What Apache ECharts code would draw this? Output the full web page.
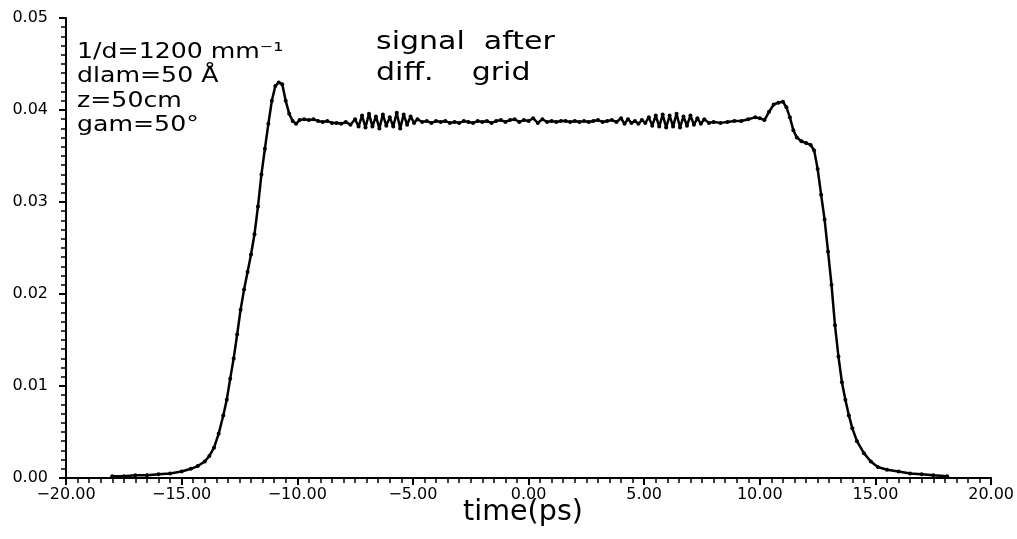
<!DOCTYPE html>
<html>
<head>
<meta charset="utf-8">
<script src="https://cdn.jsdelivr.net/npm/echarts@6/dist/echarts.min.js"></script>
<style>
html,body{margin:0;padding:0;background:#fff;}
#chart{width:1017px;height:539px;}
</style>
</head>
<body>
<div id="chart"></div>
<script>
// time (ps)
const times = [
-18.0,-17.5,-17.0,-16.5,-16.0,-15.5,-15.0,-14.6,-14.3,-14.0,-13.8,-13.6,-13.4,-13.2,-13.05,-12.9,-12.75,-12.6,-12.45,-12.3,-12.15,-12.0,-11.85,-11.7,-11.55,-11.4,-11.25,-11.1,-10.95,-10.8,-10.65,-10.5,-10.35,-10.2,-10.05,
-9.9,-9.7,-9.5,-9.3,-9.1,-8.9,-8.7,-8.5,-8.3,-8.1,-7.9,-7.7,-7.5,-7.35,-7.2,-7.05,-6.9,-6.75,-6.6,-6.45,-6.3,-6.15,-6.0,-5.85,-5.7,-5.55,-5.4,-5.25,-5.1,-4.95,-4.8,-4.6,-4.4,-4.2,-4.0,-3.8,-3.6,-3.4,-3.2,-3.0,-2.8,-2.6,-2.4,-2.2,-2.0,-1.8,-1.6,-1.4,-1.2,-1.0,-0.8,-0.6,-0.4,-0.2,
0.0,0.2,0.4,0.6,0.8,1.0,1.2,1.4,1.6,1.8,2.0,2.2,2.4,2.6,2.8,3.0,3.2,3.4,3.6,3.8,4.0,4.15,4.3,4.45,4.6,4.75,4.9,5.05,5.2,5.35,5.5,5.65,5.8,5.95,6.1,6.25,6.4,6.55,6.7,6.85,7.0,7.15,7.3,7.45,7.6,7.8,8.0,8.3,8.6,8.9,9.2,9.5,9.8,10.0,10.2,10.4,10.6,10.8,11.0,11.15,11.3,11.45,11.6,11.8,12.0,12.2,12.35,12.5,12.65,12.8,12.95,13.1,13.25,13.4,13.55,13.7,13.85,14.0,14.2,14.5,14.8,15.1,15.5,16.0,16.5,17.0,17.5,18.1
];
// signal after diff. grid
const signal = [
0.0002,0.0002,0.0003,0.0003,0.0004,0.0005,0.0007,0.0010,0.0013,0.0018,0.0024,0.0033,0.0048,0.0068,0.0085,0.0108,0.0130,0.0156,0.0183,0.0205,0.0224,0.0243,0.0265,0.0295,0.0330,0.0358,0.0385,0.0410,0.0426,0.0430,0.0428,0.0410,0.0396,0.0388,0.0385,
0.0389,0.0390,0.0389,0.0390,0.0388,0.0387,0.0388,0.0386,0.0386,0.0385,0.0387,0.0384,0.0390,0.0382,0.0394,0.0381,0.0396,0.0382,0.0393,0.0380,0.0395,0.0383,0.0392,0.0382,0.0397,0.0380,0.0395,0.0384,0.0393,0.0386,0.0390,0.0387,0.0388,0.0386,0.0388,0.0387,0.0388,0.0386,0.0387,0.0386,0.0388,0.0387,0.0386,0.0388,0.0387,0.0388,0.0386,0.0388,0.0389,0.0387,0.0389,0.0390,0.0387,0.0389,
0.0388,0.0391,0.0386,0.0390,0.0387,0.0388,0.0387,0.0388,0.0388,0.0387,0.0388,0.0387,0.0388,0.0387,0.0388,0.0389,0.0387,0.0388,0.0389,0.0387,0.0391,0.0385,0.0390,0.0386,0.0388,0.0385,0.0389,0.0386,0.0392,0.0383,0.0394,0.0382,0.0395,0.0381,0.0394,0.0382,0.0396,0.0381,0.0393,0.0383,0.0394,0.0384,0.0391,0.0385,0.0390,0.0386,0.0387,0.0386,0.0387,0.0388,0.0388,0.0390,0.0392,0.0391,0.0389,0.0398,0.0406,0.0408,0.0409,0.0403,0.0392,0.0378,0.0370,0.0366,0.0364,0.0362,0.0356,0.0336,0.0308,0.0281,0.0246,0.0210,0.0166,0.0132,0.0104,0.0085,0.0068,0.0054,0.0040,0.0027,0.0018,0.0012,0.0009,0.0007,0.0005,0.0004,0.0003,0.0002
];
const xTicks = [-20, -15, -10, -5, 0, 5, 10, 15, 20];
const yTicks = [0.00, 0.01, 0.02, 0.03, 0.04, 0.05];
const annotations = ['1/d=1200 mm\u207B\u00B9', 'dlam=50 \u00C5', 'z=50cm', 'gam=50\u00B0'];
const titleLines = ['signal  after', 'diff.    grid'];
const xTitle = 'time(ps)';

const FONT = 'DejaVu Sans';
const chart = echarts.init(document.getElementById('chart'), null, {renderer: 'canvas'});
const data = times.map((t, i) => [t, signal[i]]);

chart.setOption({
  animation: false,
  backgroundColor: '#fff',
  grid: {left: 66, right: 24, top: 18, bottom: 61, containLabel: false},
  xAxis: {
    type: 'value',
    min: xTicks[0], max: xTicks[xTicks.length - 1], interval: 5,
    axisLine: {show: true, onZero: false, lineStyle: {color: '#000', width: 2}},
    axisTick: {show: true, inside: false, length: 7, lineStyle: {color: '#000', width: 2}},
    minorTick: {show: true, splitNumber: 10, length: 5, lineStyle: {color: '#000', width: 1.5}},
    splitLine: {show: false},
    axisLabel: {fontFamily: FONT, fontSize: 16, color: '#000', margin: 9,
      formatter: v => v.toFixed(2).replace('-', '\u2212')}
  },
  yAxis: {
    type: 'value',
    min: yTicks[0], max: yTicks[yTicks.length - 1], interval: 0.01,
    axisLine: {show: true, onZero: false, lineStyle: {color: '#000', width: 2}},
    axisTick: {show: true, inside: false, length: 7, lineStyle: {color: '#000', width: 2}},
    minorTick: {show: true, splitNumber: 10, length: 5, lineStyle: {color: '#000', width: 1.5}},
    splitLine: {show: false},
    axisLabel: {fontFamily: FONT, fontSize: 16, color: '#000', margin: 18,
      formatter: v => v.toFixed(2)}
  },
  series: [{
    type: 'line',
    data: data,
    showSymbol: true,
    showAllSymbol: true,
    symbol: 'circle',
    symbolSize: 4,
    itemStyle: {color: '#000'},
    lineStyle: {color: '#000', width: 2.5},
    clip: false
  }],
  graphic: [
    ...annotations.map((s, i) => ({
      type: 'text', x: 77, y: 42 + i * 24.5, scaleX: 1.2,
      style: {text: s, font: '21px "' + FONT + '"', fill: '#000', textVerticalAlign: 'top'}
    })),
    ...titleLines.map((s, i) => ({
      type: 'text', x: 376, y: 30 + i * 31, scaleX: 1.2,
      style: {text: s, font: '25px "' + FONT + '"', fill: '#000', textVerticalAlign: 'top'}
    })),
    {
      type: 'text', x: 523, y: 499, scaleX: 1.02,
      style: {text: xTitle, font: '28px "' + FONT + '"', fill: '#000', textAlign: 'center', textVerticalAlign: 'top'}
    }
  ]
});
</script>
</body>
</html>
